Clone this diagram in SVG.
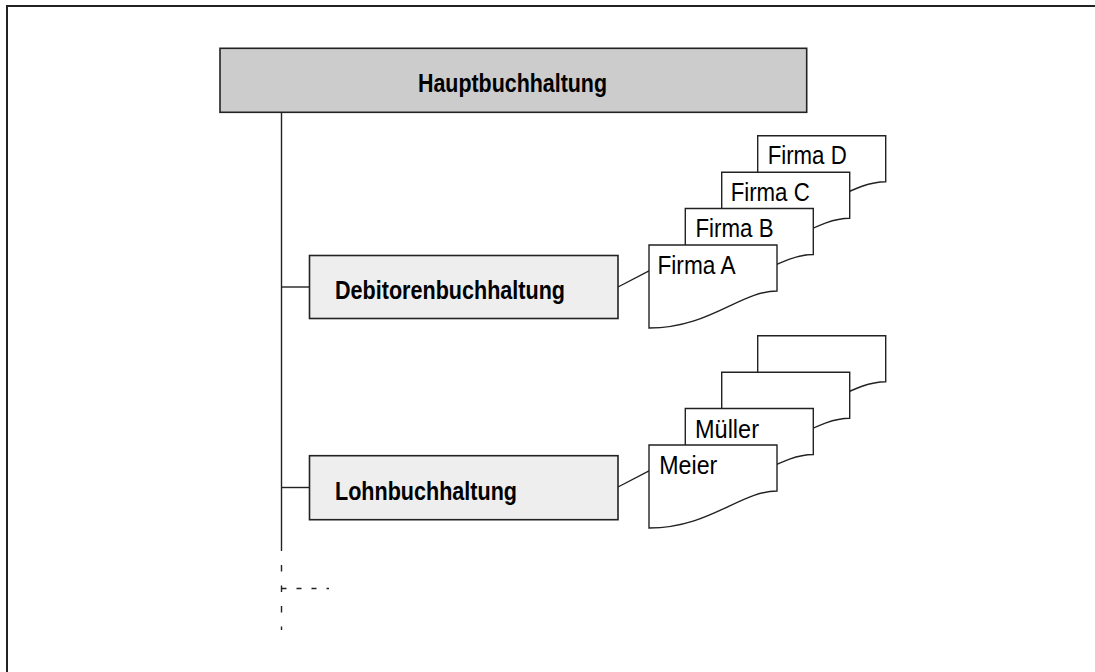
<svg xmlns="http://www.w3.org/2000/svg" width="1095" height="672" viewBox="0 0 1095 672">
<defs>
<style>
.frame{fill:none;stroke:#222;stroke-width:2}
.main{fill:#cccccc;stroke:#222;stroke-width:1.6}
.sub{fill:#eeeeee;stroke:#222;stroke-width:1.6}
.doc{fill:#fff;stroke:#222;stroke-width:1.4}
.ln{fill:none;stroke:#222;stroke-width:1.4}
.dash{fill:none;stroke:#222;stroke-width:1.4;stroke-dasharray:6.5 14}
.dashh{fill:none;stroke:#222;stroke-width:1.4;stroke-dasharray:5 10}
.b{font-family:"Liberation Sans",Arial,sans-serif;font-weight:bold;font-size:26px;fill:#000}
.t{font-family:"Liberation Sans",Arial,sans-serif;font-size:26.5px;fill:#000}
</style>
<path id="docshape" d="M0,0 H128 V46 C91,46 61,83 0,83 Z"/>
</defs>
<rect width="1095" height="672" fill="#fff"/>
<path class="frame" d="M7,672 V6 H1095"/>

<g id="connectors">
<path class="ln" d="M281.5,112 V551"/>
<path class="ln" d="M281.5,287 H309.5"/>
<path class="ln" d="M281.5,487.5 H309.5"/>
<path class="dash" d="M281.5,565 V630"/>
<path class="dashh" d="M281.5,588.5 H329"/>
<path class="ln" d="M618,287 L649.5,270.7"/>
<path class="ln" d="M618,487 L649.5,470.7"/>
</g>

<g id="hauptbuchhaltung">
<rect class="main" x="220" y="48.3" width="586.7" height="64"/>
<text class="b" x="418" y="92" textLength="189" lengthAdjust="spacingAndGlyphs">Hauptbuchhaltung</text>
</g>

<g id="debitorenbuchhaltung">
<rect class="sub" x="309.5" y="255.5" width="308.5" height="63"/>
<text class="b" x="335" y="299" textLength="230" lengthAdjust="spacingAndGlyphs">Debitorenbuchhaltung</text>
</g>

<g id="lohnbuchhaltung">
<rect class="sub" x="309.5" y="455.7" width="308.5" height="64"/>
<text class="b" x="335" y="500" textLength="182" lengthAdjust="spacingAndGlyphs">Lohnbuchhaltung</text>
</g>

<g id="firma-d">
<use href="#docshape" class="doc" x="757.7" y="135.7"/>
<text class="t" x="767.7" y="164.2" textLength="79" lengthAdjust="spacingAndGlyphs">Firma D</text>
</g>
<g id="firma-c">
<use href="#docshape" class="doc" x="721.7" y="172.3"/>
<text class="t" x="730.7" y="200.8" textLength="79" lengthAdjust="spacingAndGlyphs">Firma C</text>
</g>
<g id="firma-b">
<use href="#docshape" class="doc" x="685.3" y="208.5"/>
<text class="t" x="695.5" y="237" textLength="78" lengthAdjust="spacingAndGlyphs">Firma B</text>
</g>
<g id="firma-a">
<use href="#docshape" class="doc" x="649" y="245"/>
<text class="t" x="657.5" y="273.5" textLength="78" lengthAdjust="spacingAndGlyphs">Firma A</text>
</g>

<g id="lohn-doc-4">
<use href="#docshape" class="doc" x="757.7" y="335.7"/>
</g>
<g id="lohn-doc-3">
<use href="#docshape" class="doc" x="721.7" y="372.3"/>
</g>
<g id="mueller">
<use href="#docshape" class="doc" x="685.3" y="408.5"/>
<text class="t" x="695" y="437.8" textLength="64" lengthAdjust="spacingAndGlyphs">Müller</text>
</g>
<g id="meier">
<use href="#docshape" class="doc" x="649" y="445"/>
<text class="t" x="659.3" y="473.8" textLength="58" lengthAdjust="spacingAndGlyphs">Meier</text>
</g>
</svg>
